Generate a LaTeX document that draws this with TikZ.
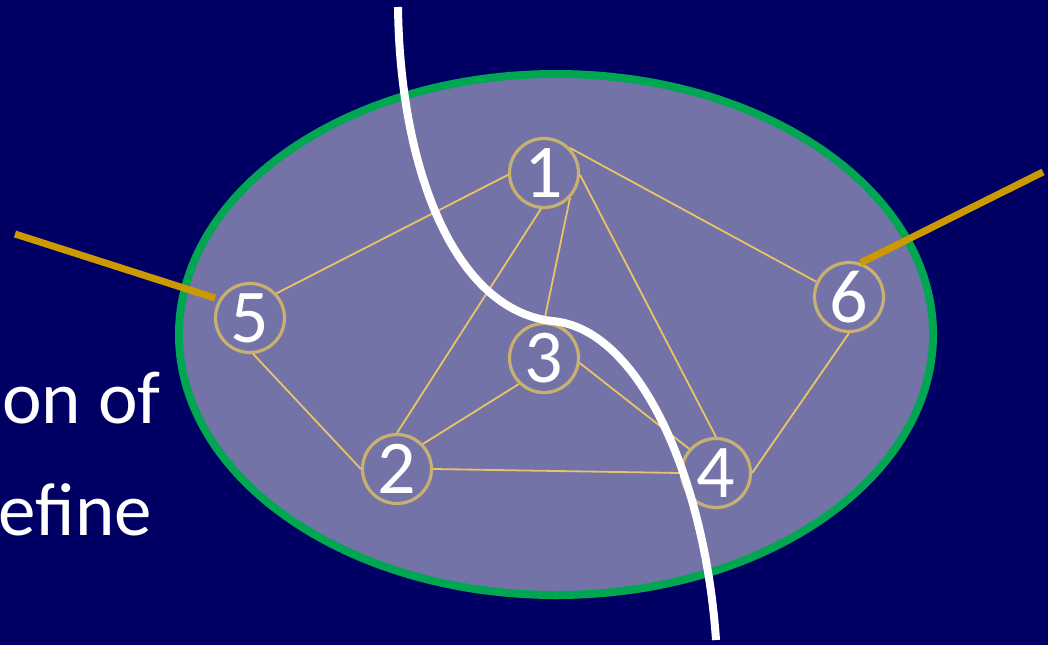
\documentclass[tikz,border=0pt]{standalone}
\usepackage{fontspec}
\setmainfont{Carlito}
\definecolor{bg}{RGB}{0,0,100}
\definecolor{ellfill}{RGB}{116,115,168}
\definecolor{ellgreen}{RGB}{0,166,81}
\definecolor{ringtan}{RGB}{200,176,112}
\definecolor{edgecol}{RGB}{232,196,100}
\definecolor{goldline}{RGB}{204,153,0}
\begin{document}
\begin{tikzpicture}[x=1pt,y=-1pt,
  vtx/.style={circle, draw=ringtan, line width=3.2pt, minimum size=69pt, inner sep=0pt,
    text=white, font=\fontsize{76}{80}\selectfont},
  edge/.style={draw=edgecol, line width=1.8pt},
  ext/.style={draw=goldline, line width=7pt},
  cut/.style={draw=white, line width=8pt},
  lbl/.style={text=white, font=\fontsize{75}{90}\selectfont, inner sep=0pt, anchor=base east}]
\useasboundingbox[fill=bg] (0,0) rectangle (1048,645);
\fill[ellfill] (556,334.5) ellipse [x radius=377pt, y radius=260.5pt];
\draw[ellgreen, line width=8pt] (556,334.5) ellipse [x radius=377pt, y radius=260.5pt];
\node[lbl] (t1) at (161,423) {on of};
\node[lbl] (t2) at (152,535) {efine};
\node[vtx] (n1) at (544,173) {1};
\node[vtx] (n2) at (397,469) {2};
\node[vtx] (n3) at (544,358) {3};
\node[vtx] (n4) at (716,473) {4};
\node[vtx] (n5) at (250,318) {5};
\node[vtx] (n6) at (849,297) {6};
\draw[edge] (n1.183) -- (n5.43);
\draw[edge] (n1.-95) -- (n2.90);
\draw[edge] (n1.-44) -- (n3.90);
\draw[edge] (n1.-3) -- (n4.90);
\draw[edge] (n1.44) -- (n6.155);
\draw[edge] (n5.-85) -- (n2.180);
\draw[edge] (n2.44) -- (n3.-134);
\draw[edge] (n2.0) -- (n4.180);
\draw[edge] (n3.-8) -- (n4.138);
\draw[edge] (n4.0) -- (n6.-90);
\coordinate (L5) at (15,234);
\coordinate (R6) at (1043,172);
\draw[ext] (L5) -- ([shift={(-3,-3)}]n5.152);
\draw[ext] (R6) -- (n6.71);
\coordinate (ctop) at (398,7);
\coordinate (cmid) at (552,321);
\coordinate (cbot) at (716,640);
\draw[cut] (ctop) .. controls (400,170) and (455,310) .. (cmid)
  .. controls (640,328) and (705,480) .. (cbot);
\end{tikzpicture}
\end{document}
